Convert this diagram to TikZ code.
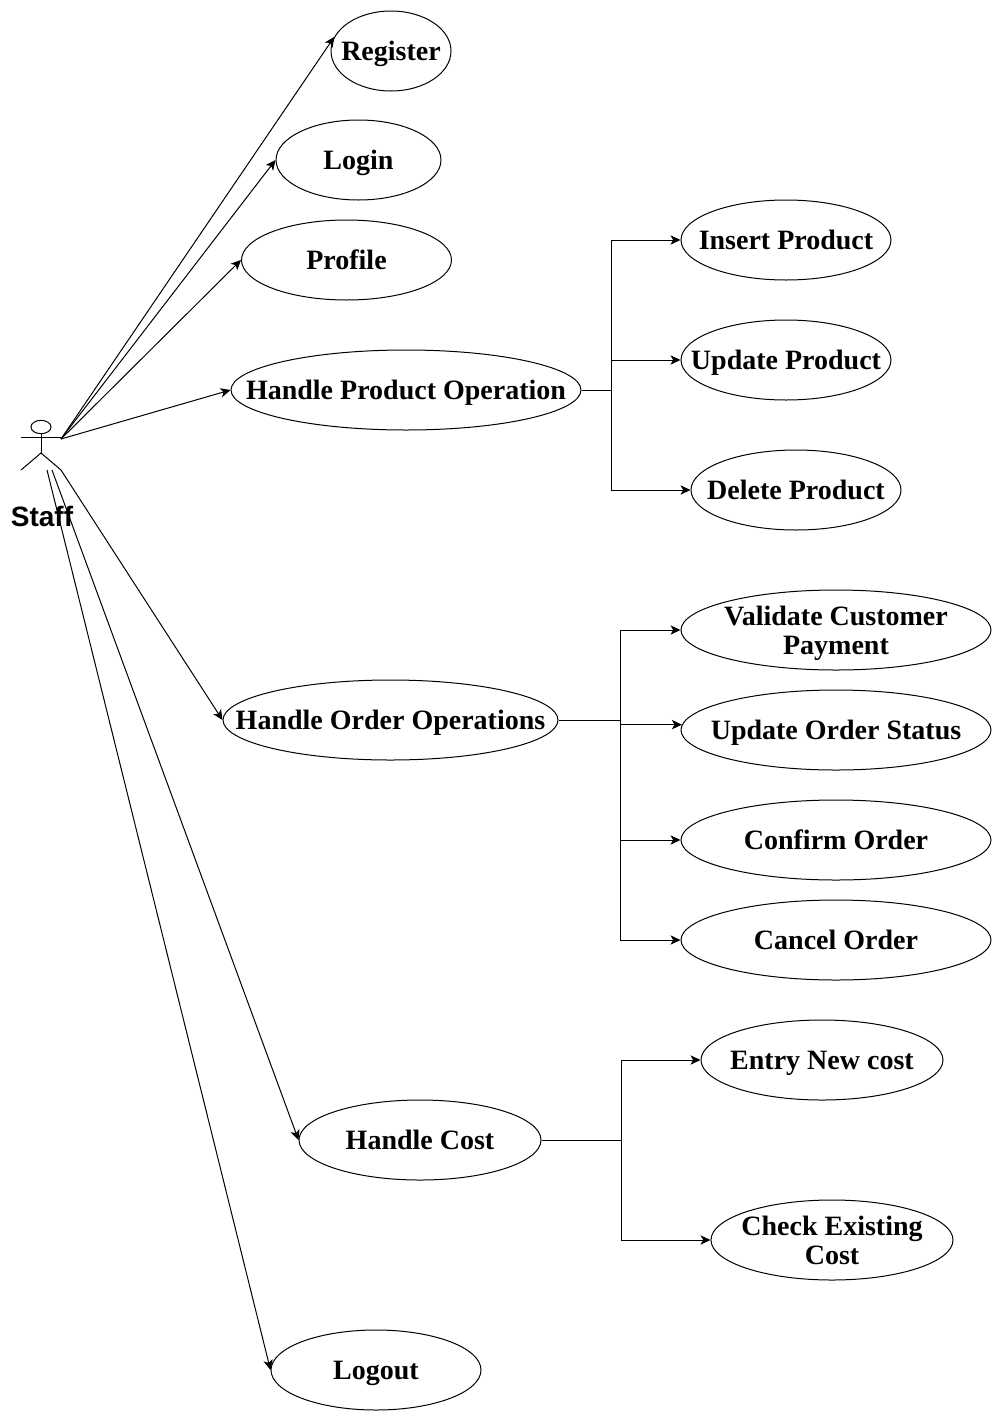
\documentclass[tikz,border=0pt]{standalone}
\usepackage{fontspec}
\setmainfont{Liberation Serif}
\newfontfamily\labelsans{Liberation Sans}
\usetikzlibrary{shapes.geometric,arrows.meta}
\tikzset{
  usecase/.style={ellipse,draw=black,line width=0.75pt,inner xsep=-200pt,inner ysep=-60pt,minimum height=60pt,
    align=center,font=\fontsize{21}{21.75}\selectfont\bfseries},
  oneline/.style={usecase,text height=14pt,text depth=0pt},
  link/.style={draw=black,line width=0.75pt,-{Stealth[length=7.5pt,width=7pt,inset=2pt]}},
  wire/.style={draw=black,line width=0.75pt},
  figure line/.style={draw=black,line width=0.75pt},
}
\begin{document}
\begin{tikzpicture}[x=0.75pt,y=-0.75pt]
\useasboundingbox (0,0) rectangle (1002,1421);
\fill[white] (0,0) rectangle (1002,1421);
% actor
\node[ellipse,draw=black,line width=0.75pt,minimum width=15pt,minimum height=10pt,inner sep=0pt] (head) at (41,427) {};
\coordinate (armL) at (21,437);
\coordinate (armR) at (61,437);
\coordinate (hip) at (41,453);
\coordinate (legL) at (21,470);
\coordinate (legR) at (61,470);
\draw[figure line] (armL) -- (armR);
\draw[figure line] (head.south) -- (hip);
\draw[figure line] (legL) -- (hip) -- (legR);
\node[font=\labelsans\fontsize{21}{24}\selectfont\bfseries,inner sep=0pt] (staff) at (42,516) {Staff};
% use cases
\node[oneline,minimum width=90pt] (reg) at (391,51) {Register};
\node[oneline,minimum width=123.75pt] (log) at (358.5,160) {Login};
\node[oneline,minimum width=157.5pt] (pro) at (346.5,260) {Profile};
\node[oneline,minimum width=262.5pt] (hpo) at (406,390) {Handle Product Operation};
\node[oneline,minimum width=157.5pt] (ins) at (786,240) {Insert Product};
\node[oneline,minimum width=157.5pt] (upd) at (786,360) {Update Product};
\node[oneline,minimum width=157.5pt] (del) at (796,490) {Delete Product};
\node[oneline,minimum width=251.25pt] (hoo) at (390.5,720) {Handle Order Operations};
\node[usecase,minimum width=232.5pt] (val) at (836,630) {Validate Customer\\\leavevmode\smash{Payment}};
\node[oneline,minimum width=232.5pt] (uos) at (836,730) {Update Order Status};
\node[oneline,minimum width=232.5pt] (con) at (836,840) {Confirm Order};
\node[oneline,minimum width=232.5pt] (can) at (836,940) {Cancel Order};
\node[oneline,minimum width=181.5pt] (hco) at (420,1140) {Handle Cost};
\node[oneline,minimum width=181.5pt] (ent) at (822,1060) {Entry New cost};
\node[usecase,minimum width=181.5pt] (che) at (832,1240) {Check Existing\\Cost};
\node[oneline,minimum width=157.5pt] (lgo) at (376,1370) {Logout};
% actor links
\coordinate (handA) at (61,439);
\coordinate (footA) at (61,470);
\coordinate (footB) at (52,470);
\coordinate (footC) at (47,470);
\draw[link] (handA) -- (reg.166);
\draw[link] (handA) -- (log.west);
\draw[link] (handA) -- (pro.west);
\draw[link] (handA) -- (hpo.west);
\draw[link] (footA) -- (hoo.west);
\draw[link] (footB) -- (hco.west);
\draw[link] (footC) -- (lgo.west);
% branches
\coordinate (jp) at (611,390);
\coordinate (jo) at (620,720);
\coordinate (jc) at (621,1140);
\draw[wire] (hpo.east) -- (jp);
\draw[link] (jp) |- (ins.west);
\draw[link] (jp) |- (upd.west);
\draw[link] (jp) |- (del.west);
\draw[wire] (hoo.east) -- (jo);
\draw[link] (jo) |- (val.west);
\draw[link] (jo) |- (uos.178);
\draw[link] (jo) |- (con.west);
\draw[link] (jo) |- (can.west);
\draw[wire] (hco.east) -- (jc);
\draw[link] (jc) |- (ent.west);
\draw[link] (jc) |- (che.west);
\end{tikzpicture}
\end{document}
